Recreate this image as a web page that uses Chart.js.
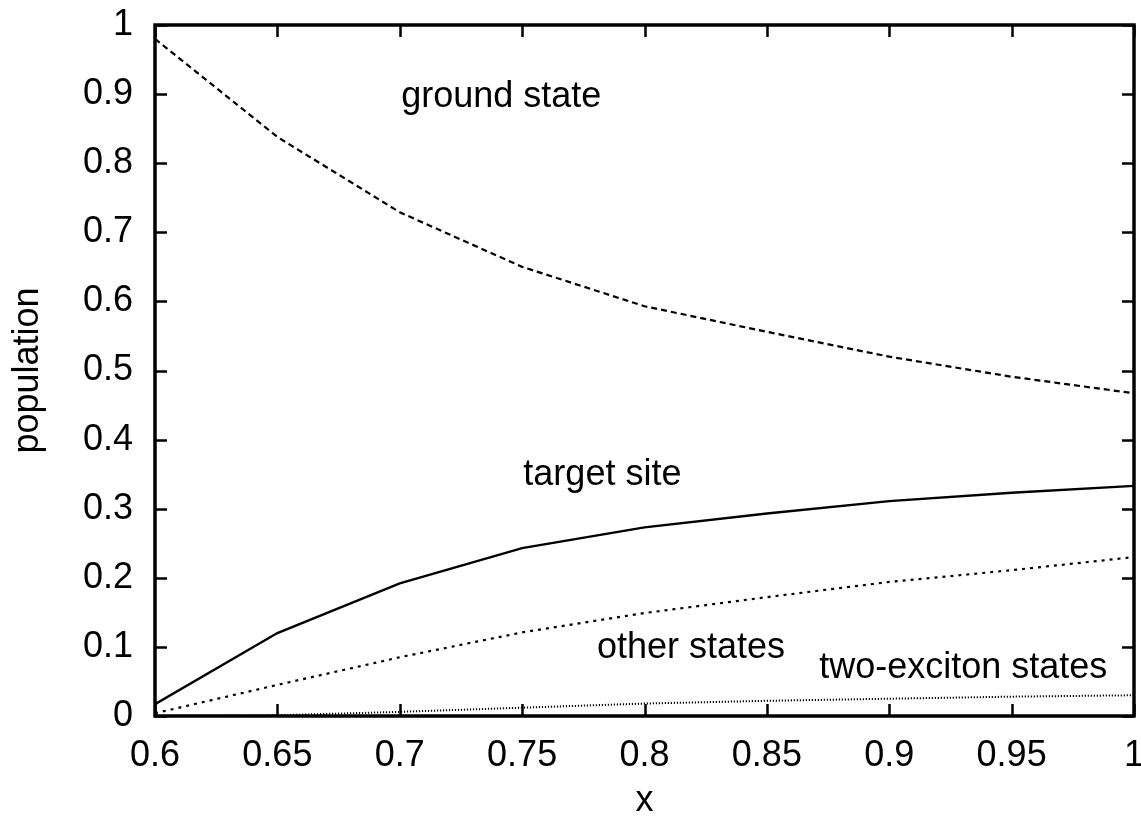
<!DOCTYPE html>
<html>
<head>
<meta charset="utf-8">
<script src="https://cdn.jsdelivr.net/npm/chart.js@4/dist/chart.umd.min.js"></script>
<style>
  html, body { margin: 0; padding: 0; background: #fff; }
  #wrap { width: 1141px; height: 823px; }
</style>
</head>
<body>
<div id="wrap"><canvas id="c" width="1141" height="823"></canvas></div>
<script>
const xValues = [0.6, 0.65, 0.7, 0.75, 0.8, 0.85, 0.9, 0.95, 1.0];
const groundState = [0.980, 0.838, 0.729, 0.650, 0.593, 0.556, 0.520, 0.491, 0.467];
const targetSite = [0.017, 0.120, 0.192, 0.243, 0.273, 0.293, 0.311, 0.323, 0.333];
const otherStates = [0.004, 0.045, 0.085, 0.121, 0.149, 0.172, 0.194, 0.211, 0.230];
const twoExciton = [0.000, 0.001, 0.006, 0.012, 0.018, 0.022, 0.025, 0.028, 0.030];

const xTicks = [0.6, 0.65, 0.7, 0.75, 0.8, 0.85, 0.9, 0.95, 1];
const yTicks = [0, 0.1, 0.2, 0.3, 0.4, 0.5, 0.6, 0.7, 0.8, 0.9, 1];

const labelTexts = ["ground state", "target site", "other states", "two-exciton states"];
const labelX = [0.7006, 0.7505, 0.7806, 0.8714];
const labelY = [0.881, 0.334, 0.084, 0.055];

const FONT = "'Liberation Sans', Arial, Helvetica, sans-serif";

function pts(ys) { return xValues.map((x, i) => ({ x: x, y: ys[i] })); }

const frameAndLabels = {
  id: 'frameAndLabels',
  afterDatasetsDraw(chart) {
    const { ctx, chartArea: a, scales } = chart;
    const xs = scales.x, ys = scales.y;
    ctx.save();
    ctx.strokeStyle = '#000';
    ctx.lineWidth = 2.5;
    const tl = 12;
    ctx.beginPath();
    xTicks.forEach(v => {
      const px = Math.round(xs.getPixelForValue(v)) + 0.5;
      ctx.moveTo(px, a.bottom); ctx.lineTo(px, a.bottom - tl);
      ctx.moveTo(px, a.top); ctx.lineTo(px, a.top + tl);
    });
    yTicks.forEach(v => {
      const py = Math.round(ys.getPixelForValue(v)) + 0.5;
      ctx.moveTo(a.left, py); ctx.lineTo(a.left + tl, py);
      ctx.moveTo(a.right, py); ctx.lineTo(a.right - tl, py);
    });
    ctx.stroke();
    ctx.lineWidth = 3.5;
    ctx.strokeRect(a.left, a.top, a.right - a.left, a.bottom - a.top);
    ctx.fillStyle = '#000';
    ctx.font = '36px ' + FONT;
    ctx.textAlign = 'left';
    ctx.textBaseline = 'alphabetic';
    labelTexts.forEach((t, i) => {
      ctx.fillText(t, xs.getPixelForValue(labelX[i]), ys.getPixelForValue(labelY[i]));
    });
    ctx.restore();
  }
};

function fmt(v) { return String(+Number(v).toFixed(2)); }

new Chart(document.getElementById('c'), {
  type: 'line',
  data: {
    datasets: [
      { label: 'ground state', data: pts(groundState), borderColor: '#000', borderWidth: 2.2, borderDash: [6, 4], pointRadius: 0, tension: 0, fill: false },
      { label: 'target site', data: pts(targetSite), borderColor: '#000', borderWidth: 2.4, pointRadius: 0, tension: 0, fill: false },
      { label: 'other states', data: pts(otherStates), borderColor: '#000', borderWidth: 2.2, borderDash: [3, 5], pointRadius: 0, tension: 0, fill: false },
      { label: 'two-exciton states', data: pts(twoExciton), borderColor: '#000', borderWidth: 2, borderDash: [1.2, 1.8], pointRadius: 0, tension: 0, fill: false }
    ]
  },
  options: {
    responsive: false,
    animation: false,
    devicePixelRatio: 1,
    layout: { padding: { left: 0, right: 7, top: 25, bottom: 0 } },
    plugins: { legend: { display: false }, tooltip: { enabled: false } },
    scales: {
      x: {
        type: 'linear', min: 0.6, max: 1,
        afterBuildTicks: s => { s.ticks = xTicks.map(v => ({ value: v })); },
        afterFit: s => { s.height = 107; s.paddingLeft = 0; s.paddingRight = 0; },
        grid: { display: false, drawTicks: false },
        border: { display: false },
        ticks: { color: '#000', font: { family: FONT, size: 36 }, padding: 18, maxRotation: 0, autoSkip: false, callback: fmt },
        title: { display: true, text: 'x', color: '#000', font: { family: FONT, size: 36 }, padding: { top: 10, bottom: 0 } }
      },
      y: {
        type: 'linear', min: 0, max: 1,
        afterBuildTicks: s => { s.ticks = yTicks.map(v => ({ value: v })); },
        afterFit: s => { s.width = 155; s.paddingTop = 0; s.paddingBottom = 0; },
        grid: { display: false, drawTicks: false },
        border: { display: false },
        ticks: { color: '#000', font: { family: FONT, size: 36 }, padding: 22, autoSkip: false, callback: fmt },
        title: { display: true, text: 'population', color: '#000', font: { family: FONT, size: 36 }, padding: { top: 6, bottom: 10 } }
      }
    }
  },
  plugins: [frameAndLabels]
});
</script>
</body>
</html>
